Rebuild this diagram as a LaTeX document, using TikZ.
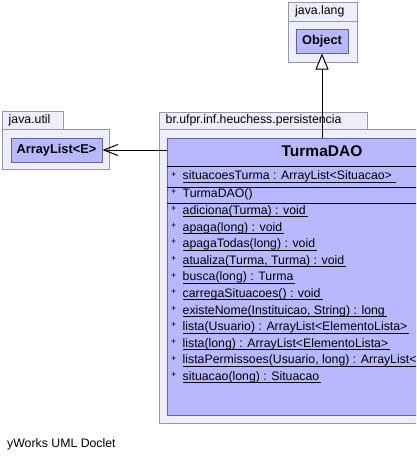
\documentclass[tikz,border=0pt]{standalone}
\usepackage{fontspec}
\setmainfont{Liberation Sans}
\usetikzlibrary{arrows.meta}
\definecolor{pkgfill}{RGB}{238,238,250}
\definecolor{pkgline}{RGB}{150,150,172}
\definecolor{clsfill}{RGB}{184,184,255}
\definecolor{clsline}{RGB}{100,100,150}
\newcommand{\undl}[1]{\setbox0\hbox{#1}\rlap{\rule[-3pt]{\wd0}{1pt}}\box0}
\tikzset{>=latex}
\tikzset{
  pkg/.style={draw=pkgline,fill=pkgfill,line width=1pt},
  cls/.style={draw=clsline,fill=clsfill,line width=1pt,inner sep=0pt},
  lbl/.style={anchor=west,inner sep=0pt,font=\fontsize{12.3}{14}\selectfont},
  vis/.style={anchor=west,inner sep=0pt,font=\fontsize{9}{9}\selectfont},
  sep/.style={line width=1pt},
  gen/.style={line width=1pt,-{Triangle[open,length=16pt,width=13pt,fill=white]}},
  dep/.style={line width=1pt,-{Straight Barb[length=14pt,width=11pt]}}
}

\begin{document}
\begin{tikzpicture}[x=1pt,y=-1pt]
  \clip (0,0) rectangle (416,461);
  % java.lang
  \draw[pkg] (288,2) rectangle (357,21);
  \draw[pkg] (288,21) rectangle (357,62);
  \node[lbl] (langname) at (295,11.5) {java.lang};
  \node[cls,minimum width=52,minimum height=24,font=\fontsize{12.8}{14}\selectfont\bfseries] (object) at (322,41) {Object};
  % java.util
  \draw[pkg] (2.5,111) rectangle (63,129);
  \draw[pkg] (2.5,129) rectangle (109,169);
  \node[lbl] (utilname) at (8.5,120) {java.util};
  \node[cls,minimum width=91,minimum height=24,font=\fontsize{12.8}{14}\selectfont\bfseries] (arraylist) at (56.5,150) {ArrayList<E>};
  % br.ufpr.inf.heuchess.persistencia
  \draw[pkg] (159,112) rectangle (367,129);
  \draw[pkg] (159,129) rectangle (440,423);
  \node[lbl] (persname) at (165.5,120.5) {br.ufpr.inf.heuchess.persistencia};
  \node[cls,anchor=north west,minimum width=270,minimum height=277] (turma) at (167,138) {};
  \node[font=\fontsize{15.5}{18}\selectfont\bfseries] (title) at (322,151.5) {TurmaDAO};
  \draw[sep] (167,166) -- (437,166);
  \draw[sep] (167,187) -- (437,187);
  \draw[sep] (167,203) -- (437,203);
  % attribute and constructor
  \node[vis] (va) at (171,174.5) {+};
  \node[lbl] (attr) at (182.5,177) {\undl{situacoesTurma : ArrayList<Situacao>\hspace{4pt}}};
  \node[vis] (vc) at (171,192) {+};
  \node[lbl] (ctor) at (182.5,194.5) {TurmaDAO()};
  % methods
  \foreach \m [count=\i from 0] in {
      {adiciona(Turma) : void},
      {apaga(long) : void},
      {apagaTodas(long) : void},
      {atualiza(Turma, Turma) : void},
      {busca(long) : Turma},
      {carregaSituacoes() : void},
      {existeNome(Instituicao, String) : long},
      {lista(Usuario) : ArrayList<ElementoLista>},
      {lista(long) : ArrayList<ElementoLista>},
      {listaPermissoes(Usuario, long) : ArrayList<},
      {situacao(long) : Situacao}} {
    \node[vis] (v\i) at (171,{209+16.6*\i}) {+};
    \node[lbl] (m\i) at (182.5,{211.5+16.6*\i}) {\undl{\m\hspace{2pt}}};
  }
  % connectors
  \draw[gen] (turma.north -| object.south) -- (object.south);
  \draw[dep] (arraylist.east -| turma.west) -- (arraylist.east);
  \node[lbl] (doclet) at (7,444) {yWorks UML Doclet};
\end{tikzpicture}
\end{document}
